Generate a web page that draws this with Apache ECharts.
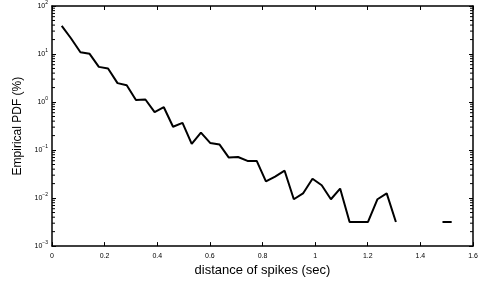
<!DOCTYPE html>
<html>
<head>
<meta charset="utf-8">
<script src="https://cdn.jsdelivr.net/npm/echarts@6/dist/echarts.min.js"></script>
<style>
  html, body { margin: 0; padding: 0; background: #fff; }
  #chart { width: 488px; height: 282px; }
</style>
</head>
<body>
<div id="chart"></div>
<script>
// spike distance bins (sec) and empirical PDF (%), null = empty bin
var distances = [0.037, 0.072, 0.108, 0.143, 0.178, 0.213, 0.249, 0.284, 0.319, 0.355,
  0.390, 0.425, 0.460, 0.496, 0.531, 0.566, 0.601, 0.637, 0.672, 0.707,
  0.743, 0.778, 0.813, 0.848, 0.884, 0.919, 0.954, 0.990, 1.025, 1.060,
  1.095, 1.131, 1.166, 1.201, 1.237, 1.272, 1.307, 1.342, 1.378, 1.413,
  1.448, 1.484, 1.519]
var pdf = [38.7, 21.3, 10.9, 10.1, 5.4, 5.0, 2.48, 2.23, 1.10, 1.13,
  0.618, 0.78, 0.306, 0.369, 0.134, 0.231, 0.141, 0.130, 0.0697, 0.0718,
  0.0594, 0.0594, 0.0223, 0.0281, 0.0372, 0.00946, 0.0125, 0.0252, 0.0185, 0.00946,
  0.0158, 0.00318, 0.00318, 0.00318, 0.00946, 0.0125, 0.00318, null, null, null,
  null, 0.00318, 0.00318]
var xTicks = [0, 0.2, 0.4, 0.6, 0.8, 1, 1.2, 1.4, 1.6]
var minorTicks = [0.002, 0.003, 0.004, 0.005, 0.006, 0.007, 0.008, 0.009,
  0.02, 0.03, 0.04, 0.05, 0.06, 0.07, 0.08, 0.09,
  0.2, 0.3, 0.4, 0.5, 0.6, 0.7, 0.8, 0.9,
  2, 3, 4, 5, 6, 7, 8, 9,
  20, 30, 40, 50, 60, 70, 80, 90]

var font = '"Liberation Sans", Arial, sans-serif'
var chart = echarts.init(document.getElementById('chart'))

var lineData = distances.map(function(d, i) { return [d, pdf[i]] })
var minorData = minorTicks.map(function(v) { return [0, v] })

function expLabel(v) {
  var e = Math.round(Math.log(v) / Math.LN10)
  var s = e < 0 ? '\u2212' + (-e) : '' + e
  return '{b|10}{s|' + s + '}'
}

var axisCommon = {
  axisLine: { show: true, onZero: false, lineStyle: { color: '#000', width: 1.5 } },
  axisTick: { show: true, inside: true, length: 4, lineStyle: { color: '#000' } },
  splitLine: { show: false }
}

var option = {
  animation: false,
  backgroundColor: '#fff',
  grid: { left: 52, right: 15, top: 6, bottom: 30 },
  xAxis: [
    Object.assign({
      type: 'value', min: 0, max: 1.6, interval: 0.2, position: 'bottom',
      name: 'distance of spikes (sec)', nameLocation: 'middle', nameGap: 10,
      nameTextStyle: { fontFamily: font, fontSize: 13, color: '#000' },
      axisLabel: { fontFamily: font, fontSize: 7, color: '#000', margin: 6,
        formatter: function(v) { return xTicks.indexOf(+v.toFixed(1)) >= 0 ? String(+v.toFixed(1)) : '' } }
    }, axisCommon),
    Object.assign({
      type: 'value', min: 0, max: 1.6, interval: 0.2, position: 'top',
      axisLabel: { show: false }
    }, axisCommon)
  ],
  yAxis: [
    Object.assign({
      type: 'log', logBase: 10, min: 0.001, max: 100, position: 'left',
      name: 'Empirical PDF (%)', nameLocation: 'middle', nameGap: 28, nameRotate: 90,
      nameTextStyle: { fontFamily: font, fontSize: 12, color: '#000' },
      axisLabel: { fontFamily: font, color: '#000', margin: 4, formatter: expLabel,
        rich: {
          b: { fontFamily: font, fontSize: 7, color: '#000' },
          s: { fontFamily: font, fontSize: 5, color: '#000', padding: [0, 0, 6, 0] }
        } }
    }, axisCommon),
    Object.assign({
      type: 'log', logBase: 10, min: 0.001, max: 100, position: 'right',
      axisLabel: { show: false }
    }, axisCommon)
  ],
  series: [
    {
      type: 'line', data: lineData, showSymbol: false, connectNulls: false,
      lineStyle: { color: '#000', width: 2 }, itemStyle: { color: '#000' }
    },
    {
      type: 'custom', data: minorData, clip: false, silent: true,
      encode: { x: 0, y: 1 },
      renderItem: function(params, api) {
        var v = api.value(1)
        var l = api.coord([0, v])
        var r = api.coord([1.6, v])
        var st = { stroke: '#000', lineWidth: 1 }
        return { type: 'group', children: [
          { type: 'line', shape: { x1: l[0], y1: l[1], x2: l[0] + 3, y2: l[1] }, style: st },
          { type: 'line', shape: { x1: r[0], y1: r[1], x2: r[0] - 3, y2: r[1] }, style: st }
        ] }
      }
    }
  ]
}

chart.setOption(option)
</script>
</body>
</html>
